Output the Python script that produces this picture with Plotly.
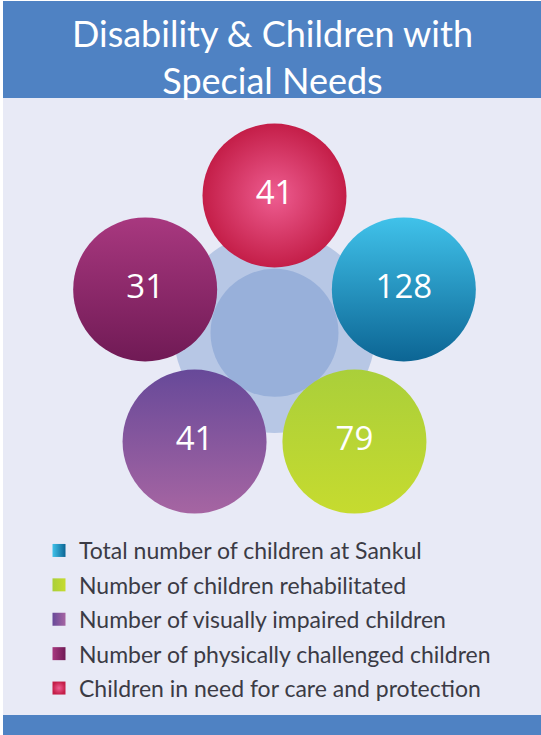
import math
import plotly.graph_objects as go

# ---- data ----
labels = [
    "Total number of children at Sankul",
    "Number of children rehabilitated",
    "Number of visually impaired children",
    "Number of physically challenged children",
    "Children in need for care and protection",
]
values = [128, 79, 41, 31, 41]
angles_deg = [18, -54, -126, 162, 90]   # position of each bubble around the hub
base_colors = ["#40C2EA", "#AACF3A", "#674999", "#A8387F", "#C41E48"]
grad_colors = ["#0C6594", "#C6DB2F", "#A665A2", "#701A55", "#EE5D91"]
grad_types = ["vertical", "vertical", "vertical", "vertical", "radial"]
title_text = "Disability & Children with<br>Special Needs"

# ---- layout geometry (pixels, axes map 1:1 to the page) ----
W, H = 541, 735
HUB_X, HUB_Y = 274.5, 331.5
RING = 136
BUBBLE = 144

FONT = "Lato"
fig = go.Figure()

for lab, val, ang, c1, c2, gt in zip(labels, values, angles_deg, base_colors, grad_colors, grad_types):
    a = math.radians(ang)
    fig.add_trace(go.Scatter(
        x=[HUB_X + RING * math.cos(a)],
        y=[HUB_Y - RING * math.sin(a)],
        mode="markers+text",
        text=[str(val)],
        textposition="middle center",
        textfont=dict(family="Open Sans", size=33, color="white"),
        marker=dict(size=BUBBLE, color=c1, line=dict(width=0),
                    gradient=dict(type=gt, color=c2)),
        showlegend=False, hoverinfo="skip", cliponaxis=False,
    ))

for i, (lab, c1, c2) in enumerate(zip(labels, base_colors, grad_colors)):
    fig.add_trace(go.Scatter(
        x=[None], y=[None], mode="markers", name=lab, legendgroup=f"g{i}",
        marker=dict(symbol="square", size=13, color=c1, line=dict(width=0),
                    gradient=dict(type="horizontal" if i != 4 else "radial", color=c2)),
    ))

shapes = [
    dict(type="rect", x0=3, x1=W, y0=98, y1=715, fillcolor="#E8EAF6", line_width=0, layer="below"),
    dict(type="rect", x0=3, x1=W, y0=1, y1=98, fillcolor="#4F82C3", line_width=0, layer="below"),
    dict(type="rect", x0=3, x1=W, y0=715, y1=H, fillcolor="#4F82C3", line_width=0, layer="below"),
    dict(type="circle", x0=HUB_X - 101, x1=HUB_X + 101, y0=332 - 101, y1=332 + 101,
         fillcolor="#B7C7E5", line_width=0, layer="below"),
    dict(type="circle", x0=HUB_X - 64, x1=HUB_X + 64, y0=332.8 - 64, y1=332.8 + 64,
         fillcolor="#98B0DA", line_width=0, layer="below"),
]

fig.update_layout(
    width=W, height=H,
    margin=dict(l=0, r=0, t=0, b=0),
    paper_bgcolor="white", plot_bgcolor="rgba(0,0,0,0)",
    xaxis=dict(range=[0, W], visible=False, fixedrange=True),
    yaxis=dict(range=[H, 0], visible=False, fixedrange=True),
    shapes=shapes,
    title=dict(text=title_text, x=272.5 / W, xanchor="center", yref="container",
               y=1 - 47 / H, yanchor="middle",
               font=dict(family=FONT, size=36, color="white")),
    legend=dict(x=39 / W, xanchor="left", y=1 - 529 / H, yanchor="top",
                bgcolor="rgba(0,0,0,0)", font=dict(family=FONT, size=23, color="#3B3B45"),
                tracegroupgap=1.5, itemclick=False, itemdoubleclick=False, traceorder="grouped"),
    showlegend=True,
)

fig.write_html("out.html", config={"displayModeBar": False},
               post_script="document.body.style.margin='0';document.body.style.overflow='hidden';")
